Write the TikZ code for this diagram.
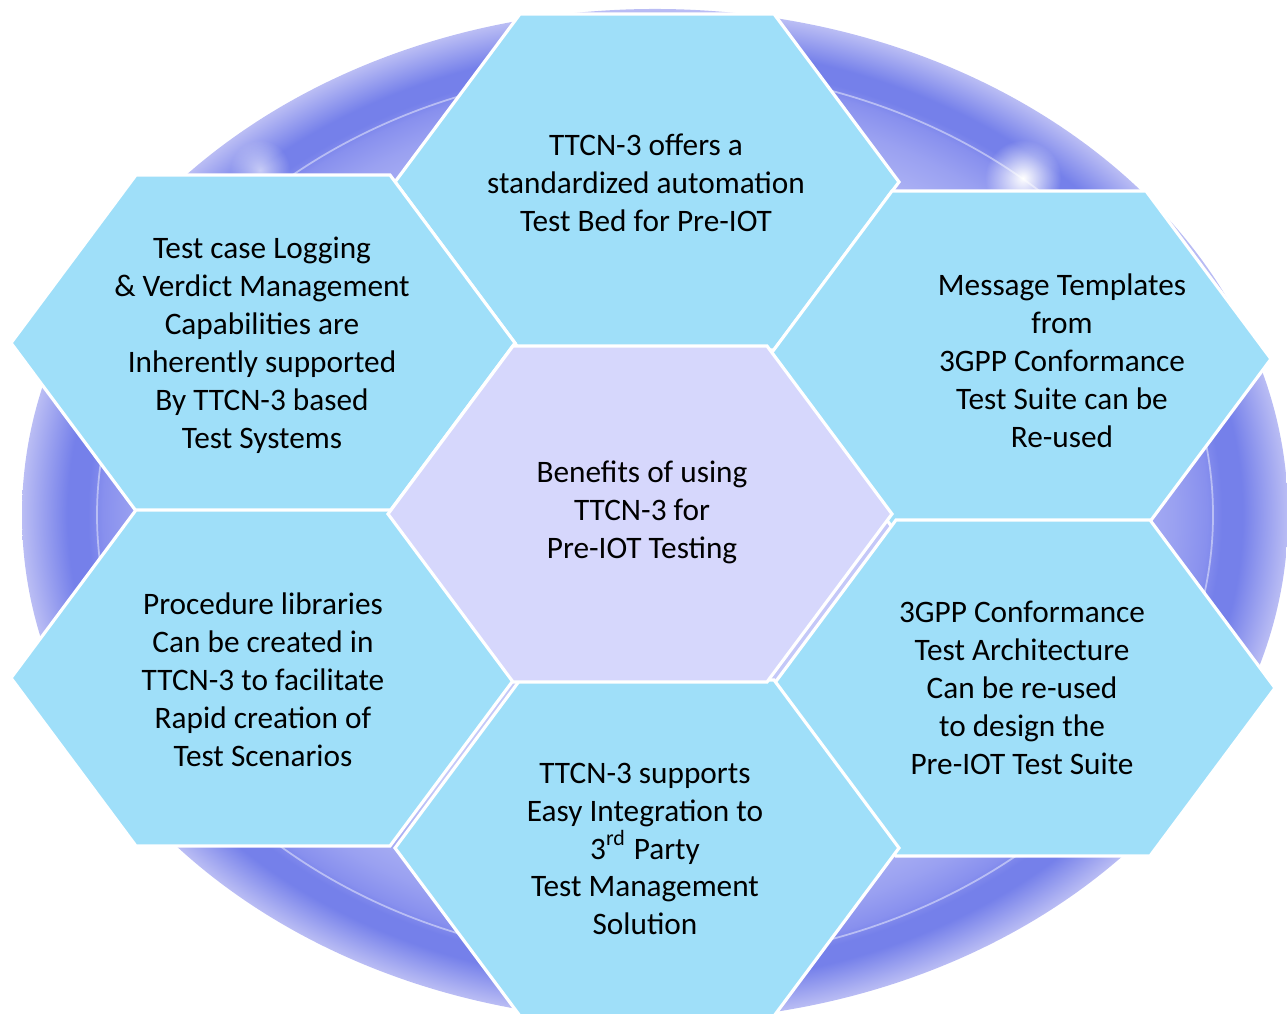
\documentclass[tikz,border=0pt]{standalone}
\usepackage{xcolor}
\usepackage{fontspec}
\setmainfont{Carlito}
\usepackage{tikz}
\usetikzlibrary{fadings}
\definecolor{hexblue}{HTML}{9FDFF9}
\definecolor{hexlilac}{HTML}{D6D7FC}
\definecolor{ringedge}{HTML}{BABDF4}
\definecolor{ringdark}{HTML}{7580EA}
\definecolor{ringmid}{HTML}{8890EE}
\definecolor{ringpale}{HTML}{C4C8F8}
\newcommand{\hextextfont}{\fontsize{8.9}{10.8}\selectfont}
\pgfdeclareradialshading{ringshade}{\pgfpoint{0bp}{0bp}}{
    color(0bp)=(ringpale);
    color(16bp)=(ringpale);
    color(20.5bp)=(ringmid!70!ringpale);
    color(21.8bp)=(ringmid);
    color(22.4bp)=(ringdark);
    color(23.2bp)=(ringdark);
    color(25bp)=(ringedge);
    color(50bp)=(ringedge)
}
\tikzfading[name=glowfade, inner color=transparent!0, outer color=transparent!100]
\tikzset{hexagon/.pic={
    \path[fill=#1, draw=white, line width=0.9pt]
        (-2.52,0) -- (-1.27,1.68) -- (1.27,1.68) -- (2.52,0)
        -- (1.27,-1.68) -- (-1.27,-1.68) -- cycle;
}}
\tikzset{hextext/.style={
    align=center,
    font=\hextextfont,
    text=black,
    inner sep=0pt,
}}
\tikzset{glow/.style={
    fill=white,
    path fading=glowfade,
}}

\begin{document}
\begin{tikzpicture}
    \useasboundingbox (0,0) rectangle (12.87,10.14);
    \clip (0,0) rectangle (12.87,10.14);

    \coordinate (ringc) at (6.55,4.99);
    \shade[shading=ringshade] (ringc) ellipse (6.33 and 5.06);
    \draw[white, opacity=0.45, line width=0.5pt] (ringc) ellipse (5.58 and 4.47);
    \fill[glow] (10.23,8.36) circle (0.38);
    \fill[glow, opacity=0.6] (2.60,8.44) circle (0.3);

    \pic at (6.47,8.32) {hexagon=hexblue};
    \pic at (2.63,6.71) {hexagon=hexblue};
    \pic at (10.19,6.55) {hexagon=hexblue};
    \pic at (2.63,3.36) {hexagon=hexblue};
    \pic at (10.23,3.26) {hexagon=hexblue};
    \pic at (6.47,1.66) {hexagon=hexblue};
    \pic at (6.40,5.00) {hexagon=hexlilac};

    \node[hextext] (bed) at (6.46,8.31)
        {TTCN-3 offers a\\standardized automation\\Test Bed for Pre-IOT};
    \node[hextext] (logging) at (2.62,6.69)
        {Test case Logging\\\& Verdict Management\\Capabilities are\\Inherently supported\\By TTCN-3 based\\Test Systems};
    \node[hextext] (templates) at (10.62,6.53)
        {Message Templates\\from\\3GPP Conformance\\Test Suite can be\\Re-used};
    \node[hextext] (benefits) at (6.42,5.02)
        {Benefits of using\\TTCN-3 for\\Pre-IOT Testing};
    \node[hextext] (architecture) at (10.22,3.26)
        {3GPP Conformance\\Test Architecture\\Can be re-used\\to design the\\Pre-IOT Test Suite};
    \node[hextext] (libraries) at (2.63,3.34)
        {Procedure libraries\\Can be created in\\TTCN-3 to facilitate\\Rapid creation of\\Test Scenarios};
    \node[hextext] (integration) at (6.45,1.65)
        {TTCN-3 supports\\Easy Integration to\\3\textsuperscript{rd} Party\\Test Management\\Solution};
\end{tikzpicture}
\end{document}
